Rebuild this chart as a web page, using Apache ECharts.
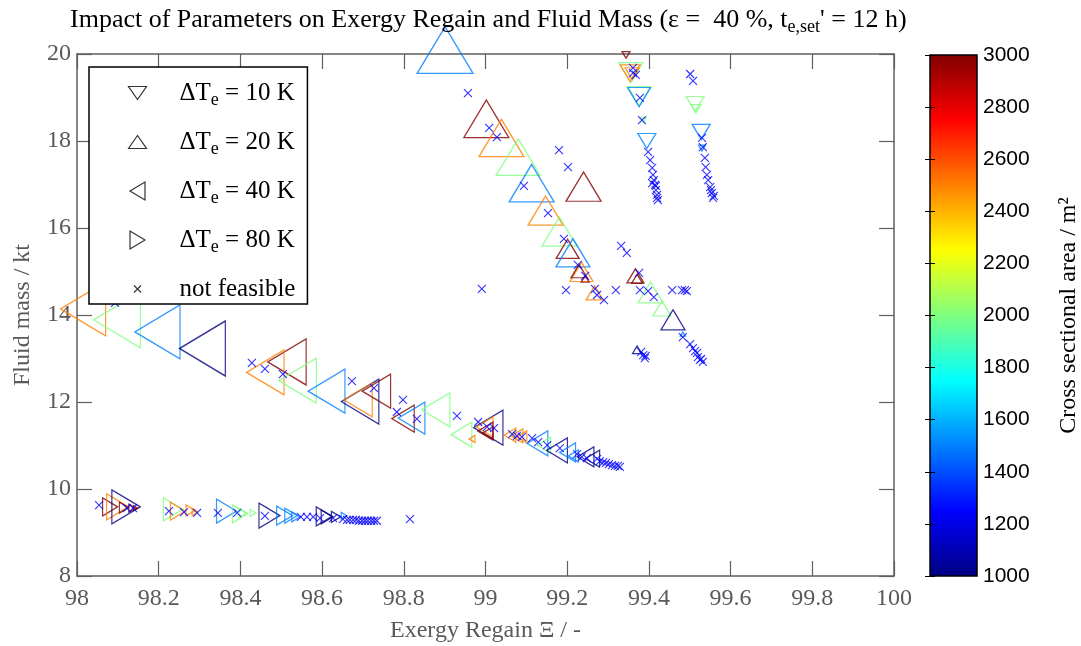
<!DOCTYPE html>
<html>
<head>
<meta charset="utf-8">
<title>Exergy regain vs fluid mass</title>
<script src="https://cdn.jsdelivr.net/npm/echarts@6/dist/echarts.min.js"></script>
<style>
  html, body { margin: 0; padding: 0; background: #fff; }
  #chart { width: 1081px; height: 646px; }
</style>
</head>
<body>
<div id="chart"></div>
<script>
// ---- data ----
// ΔTe = 10 K (down triangles)
const dt10X = [99.344, 99.356, 99.354, 99.359, 99.376, 99.376, 99.386, 99.395, 99.513, 99.515, 99.528, 99.530];
const dt10Y = [19.98, 19.57, 19.56, 19.55, 19.03, 19.01, 18.48, 18.00, 18.85, 18.74, 18.21, 17.84];
const dt10Area = [3000, 2000, 2500, 2500, 2000, 1500, 2000, 1500, 2000, 2000, 1500, 1500];
const dt10Scale = [0.8, 2.4, 2.0, 1.4, 2.3, 2.3, 0.6, 1.8, 1.8, 1.0, 1.8, 0.7];

// ΔTe = 20 K (up triangles)
const dt20X = [98.901, 99.002, 99.039, 99.080, 99.113, 99.240, 99.147, 99.181, 99.201, 99.214, 99.235,
  99.229, 99.244, 99.267, 99.367, 99.371, 99.404, 99.432, 99.459, 99.483, 99.371];
const dt20Y = [20.09, 18.51, 18.07, 17.63, 17.03, 16.95, 16.40, 15.92, 15.52, 15.43, 14.99,
  15.01, 14.83, 14.51, 14.90, 14.83, 14.52, 14.15, 13.89, 13.56, 13.20];
const dt20Area = [1500, 3000, 2500, 2000, 1500, 3000, 2500, 2000, 3000, 1500, 2500,
  3000, 3000, 2500, 3000, 3000, 2000, 2000, 1000, 1500, 1000];
const dt20Scale = [5.6, 4.5, 4.5, 4.4, 4.5, 3.5, 3.5, 3.5, 2.3, 3.4, 2.3,
  1.6, 0.8, 1.7, 1.7, 1.1, 2.5, 1.8, 2.4, 0.5, 0.9];

// ΔTe = 40 K (left triangles)
const dt40X = [98.015, 98.098, 98.197, 98.307, 98.514, 98.461, 98.540, 98.611, 98.693, 98.688,
  98.733, 98.798, 98.819, 98.878, 98.941, 98.967, 99.007, 98.998, 99.000, 99.006,
  99.060, 99.077, 99.089, 99.127, 99.143, 99.175, 99.201, 99.215, 99.245, 99.262];
const dt40Y = [14.14, 13.89, 13.61, 13.23, 12.92, 12.68, 12.49, 12.25, 12.01, 12.05,
  12.25, 11.62, 11.63, 11.82, 11.25, 11.15, 11.41, 11.43, 11.33, 11.29,
  11.24, 11.22, 11.20, 11.05, 11.01, 10.89, 10.84, 10.76, 10.74, 10.70];
const dt40Area = [2500, 2000, 1500, 1000, 3000, 2500, 2000, 1500, 1000, 2500,
  3000, 3000, 1500, 2000, 2000, 2500, 1000, 2500, 3000, 3000,
  2500, 2500, 2500, 1500, 2000, 1000, 1500, 1500, 1000, 1000];
const dt40Scale = [5.4, 5.6, 5.4, 5.5, 4.6, 4.5, 4.5, 4.4, 4.5, 3.4,
  3.4, 2.7, 3.2, 3.4, 2.5, 0.7, 3.5, 2.0, 1.8, 1.2,
  1.4, 1.4, 1.2, 2.5, 1.6, 2.5, 1.9, 1.2, 2.0, 1.7];

// ΔTe = 80 K (right triangles)
const dt80X = [98.081, 98.099, 98.120, 98.115, 98.135, 98.143, 98.235, 98.247, 98.278, 98.289, 98.366,
  98.399, 98.406, 98.431, 98.471, 98.508, 98.524, 98.536, 98.605, 98.612, 98.634, 98.654];
const dt80Y = [9.59, 9.59, 9.59, 9.57, 9.56, 9.56, 9.53, 9.49, 9.51, 9.47, 9.49,
  9.43, 9.45, 9.45, 9.39, 9.39, 9.39, 9.36, 9.37, 9.36, 9.36, 9.38];
const dt80Area = [3000, 2500, 1000, 3000, 3000, 3000, 2000, 2500, 2500, 2500, 1500,
  2000, 2000, 2000, 1000, 1500, 1500, 1500, 1000, 1000, 1000, 1500];
const dt80Scale = [1.8, 2.6, 3.4, 1.1, 0.8, 0.5, 2.3, 1.8, 1.1, 0.7, 2.4,
  1.8, 0.9, 0.7, 2.5, 1.9, 1.5, 1.0, 1.9, 1.4, 1.1, 0.7];

// not feasible [exergy regain, fluid mass]
const notFeasible = [
  [98.054, 9.63], [98.122, 9.56], [98.137, 9.56], [98.225, 9.49], [98.262, 9.47], [98.294, 9.45],
  [98.345, 9.45], [98.392, 9.45], [98.460, 9.38], [98.548, 9.36], [98.563, 9.36], [98.578, 9.36],
  [98.595, 9.33], [98.627, 9.33], [98.651, 9.31], [98.661, 9.29], [98.668, 9.29], [98.676, 9.29],
  [98.683, 9.29], [98.690, 9.27], [98.698, 9.27], [98.705, 9.27], [98.712, 9.27], [98.720, 9.27],
  [98.727, 9.27], [98.734, 9.27], [98.815, 9.31],
  [98.093, 14.28], [98.428, 12.90], [98.460, 12.76], [98.504, 12.64], [98.673, 12.48], [98.727, 12.32],
  [98.798, 12.05], [98.783, 11.77], [98.832, 11.61], [98.930, 11.68], [98.982, 11.54], [99.004, 11.43],
  [99.021, 11.40], [99.065, 11.26], [99.077, 11.22], [99.089, 11.20], [99.114, 11.17], [99.129, 11.08],
  [99.151, 11.01], [99.182, 10.94], [99.224, 10.80], [99.236, 10.74], [99.248, 10.71], [99.273, 10.69],
  [99.280, 10.64], [99.288, 10.62], [99.295, 10.60], [99.302, 10.57], [99.310, 10.55], [99.317, 10.53],
  [99.324, 10.53], [99.329, 10.51],
  [98.957, 19.10], [99.009, 18.30], [99.028, 18.09], [99.094, 16.97], [99.153, 16.34], [99.192, 15.75],
  [99.202, 17.40], [99.180, 17.79], [99.226, 15.15], [99.244, 14.90], [99.268, 14.60], [99.273, 14.46],
  [99.290, 14.34], [99.197, 14.57], [98.991, 14.60], [99.319, 14.57], [99.332, 15.59], [99.346, 15.43],
  [99.376, 14.97], [99.378, 14.57], [99.398, 14.55], [99.412, 14.41], [99.457, 14.57], [99.481, 14.57],
  [99.488, 14.57], [99.493, 14.55], [99.483, 13.49], [99.501, 13.33], [99.508, 13.24], [99.513, 13.17],
  [99.518, 13.13], [99.520, 13.03], [99.525, 12.97], [99.528, 12.99], [99.532, 12.92], [99.381, 13.15],
  [99.386, 13.08], [99.392, 13.06], [99.390, 13.01],
  [99.361, 19.68], [99.368, 19.52], [99.361, 19.56], [99.378, 18.99], [99.383, 18.48], [99.398, 17.75],
  [99.403, 17.56], [99.408, 17.38], [99.410, 17.22], [99.412, 17.10], [99.415, 16.99], [99.417, 16.87],
  [99.420, 16.76], [99.422, 16.64], [99.408, 17.03], [99.417, 16.97], [99.420, 16.69], [99.501, 19.54],
  [99.508, 19.38], [99.530, 18.07], [99.532, 17.86], [99.537, 17.61], [99.539, 17.40], [99.542, 17.22],
  [99.545, 17.10], [99.550, 16.94], [99.552, 16.87], [99.554, 16.80], [99.557, 16.69], [99.559, 16.74]
];

const seriesNames = ['ΔTe = 10 K', 'ΔTe = 20 K', 'ΔTe = 40 K', 'ΔTe = 80 K', 'not feasible'];
const areaMin = 1000, areaMax = 3000;

// ---- helpers ----
const SERIF = '"Liberation Serif", "Times New Roman", serif';
const SANS = '"Liberation Sans", Arial, sans-serif';
const AXIS_GREY = '#5f5f5f';
const TEXT_GREY = '#595959';

// matlab jet colormap
function jet(v) {
  const t = Math.min(1, Math.max(0, (v - areaMin) / (areaMax - areaMin)));
  const c = k => Math.round(255 * Math.min(1, Math.max(0, 1.5 - Math.abs(4 * t - k))));
  return 'rgb(' + c(3) + ',' + c(2) + ',' + c(1) + ')';
}

function triSeries(name, rot, xs, ys, areas, scales) {
  return {
    name: name,
    type: 'scatter',
    symbol: 'triangle',
    symbolRotate: rot,
    clip: false,
    silent: true,
    itemStyle: {color: 'none', borderColor: '#000', borderWidth: 1.3},
    data: xs.map((x, i) => ({
      value: [x, ys[i], areas[i]],
      symbolSize: [scales[i] * 10, scales[i] * 10 / 1.2],
      itemStyle: {color: 'none', borderColor: jet(areas[i]), borderWidth: 1.3}
    }))
  };
}

const legendIcon = {
  down: 'path://M0,0M18,18M0,2.5L18,2.5L9,15.5Z',
  up: 'path://M0,0M18,18M0,15.5L9,2.5L18,15.5Z',
  left: 'path://M0,0M18,18M16.5,0L16.5,18L1.5,9Z',
  right: 'path://M0,0M18,18M1.5,0L1.5,18L16.5,9Z',
  cross: 'path://M0,0M18,18M5.5,5.5L12.5,12.5M12.5,5.5L5.5,12.5'
};
const legendStyle = {color: 'none', borderColor: '#000', borderWidth: 1.2};

const jetStops = [0, 0.125, 0.375, 0.625, 0.875, 1].map(s => ({
  offset: s, color: jet(areaMin + s * (areaMax - areaMin))
}));

const chart = echarts.init(document.getElementById('chart'), null, {renderer: 'canvas'});

const mainAxisLine = {show: true, lineStyle: {color: AXIS_GREY, width: 1.5}};
const mainTick = {show: true, inside: true, length: 15, lineStyle: {color: AXIS_GREY, width: 1.2}};
const mainLabel = {color: TEXT_GREY, fontFamily: SERIF, fontSize: 24};
const barTick = {show: true, inside: true, length: 5, lineStyle: {color: '#000', width: 1}};

chart.setOption({
  animation: false,
  backgroundColor: '#fff',
  title: {
    text: "Impact of Parameters on Exergy Regain and Fluid Mass (ε =  40 %, t{sub|e,set}' = 12 h)",
    left: 70,
    top: 4,
    padding: 0,
    textStyle: {
      fontFamily: SERIF, fontSize: 26, fontWeight: 'normal', color: '#000',
      rich: {sub: {fontFamily: SERIF, fontSize: 18, color: '#000', padding: [14, 0, 0, 0]}}
    }
  },
  grid: [
    {left: 77, top: 54, width: 817, height: 522, outerBoundsMode: 'none', containLabel: false},
    {
      left: 930, top: 55, width: 47, height: 521, outerBoundsMode: 'none', containLabel: false,
      show: true, borderColor: '#000', borderWidth: 1.5,
      backgroundColor: new echarts.graphic.LinearGradient(0, 1, 0, 0, jetStops)
    }
  ],
  xAxis: [
    {
      type: 'value', gridIndex: 0, position: 'bottom', min: 98, max: 100, interval: 0.2,
      axisLine: mainAxisLine, axisTick: mainTick,
      axisLabel: Object.assign({margin: 11, showMinLabel: true, showMaxLabel: true}, mainLabel),
      splitLine: {show: false},
      name: 'Exergy Regain Ξ / -', nameLocation: 'middle', nameGap: 43,
      nameTextStyle: {color: TEXT_GREY, fontFamily: SERIF, fontSize: 24}
    },
    {
      type: 'value', gridIndex: 0, position: 'top', min: 98, max: 100, interval: 0.2,
      axisLine: mainAxisLine, axisTick: mainTick, axisLabel: {show: false}, splitLine: {show: false}
    },
    {type: 'value', gridIndex: 1, show: false, min: 0, max: 1}
  ],
  yAxis: [
    {
      type: 'value', gridIndex: 0, position: 'left', min: 8, max: 20, interval: 2,
      axisLine: mainAxisLine, axisTick: mainTick,
      axisLabel: Object.assign({margin: 6, showMinLabel: true, showMaxLabel: true}, mainLabel),
      splitLine: {show: false},
      name: 'Fluid mass / kt', nameLocation: 'middle', nameGap: 42, nameRotate: 90,
      nameTextStyle: {color: TEXT_GREY, fontFamily: SERIF, fontSize: 24}
    },
    {
      type: 'value', gridIndex: 0, position: 'right', min: 8, max: 20, interval: 2,
      axisLine: mainAxisLine, axisTick: mainTick, axisLabel: {show: false}, splitLine: {show: false}
    },
    {
      type: 'value', gridIndex: 1, position: 'right', min: areaMin, max: areaMax, interval: 200,
      axisLine: {show: false}, axisTick: barTick, splitLine: {show: false},
      axisLabel: {
        color: '#000', fontFamily: SANS, fontSize: 21, margin: 6, showMinLabel: true, showMaxLabel: true,
        formatter: v => String(v)
      },
      name: 'Cross sectional area / m²', nameLocation: 'middle', nameGap: 80, nameRotate: 90,
      nameTextStyle: {color: '#000', fontFamily: SERIF, fontSize: 24}
    },
    {
      type: 'value', gridIndex: 1, position: 'left', min: areaMin, max: areaMax, interval: 200,
      axisLine: {show: false}, axisTick: barTick, axisLabel: {show: false}, splitLine: {show: false}
    }
  ],
  legend: {
    orient: 'vertical',
    left: 89,
    top: 67,
    padding: [11, 12, 0, 37],
    backgroundColor: '#fff',
    borderColor: '#000',
    borderWidth: 1.5,
    borderRadius: 0,
    itemWidth: 74,
    itemHeight: 18,
    itemGap: 18,
    symbolKeepAspect: true,
    symbolRotate: 0,
    selectedMode: false,
    formatter: name => name.replace('Te', 'T{sub|e}'),
    textStyle: {
      fontFamily: SERIF, fontSize: 25, color: '#000', lineHeight: 30,
      rich: {sub: {fontFamily: SERIF, fontSize: 18, color: '#000', padding: [14, 0, 0, 0]}}
    },
    data: [
      {name: seriesNames[0], icon: legendIcon.down, itemStyle: legendStyle},
      {name: seriesNames[1], icon: legendIcon.up, itemStyle: legendStyle},
      {name: seriesNames[2], icon: legendIcon.left, itemStyle: legendStyle},
      {name: seriesNames[3], icon: legendIcon.right, itemStyle: legendStyle},
      {name: seriesNames[4], icon: legendIcon.cross, itemStyle: legendStyle}
    ]
  },
  series: [
    triSeries(seriesNames[0], 180, dt10X, dt10Y, dt10Area, dt10Scale),
    triSeries(seriesNames[1], 0, dt20X, dt20Y, dt20Area, dt20Scale),
    triSeries(seriesNames[2], 90, dt40X, dt40Y, dt40Area, dt40Scale),
    triSeries(seriesNames[3], -90, dt80X, dt80Y, dt80Area, dt80Scale),
    {
      name: seriesNames[4],
      type: 'scatter',
      symbol: 'path://M0,0L1,1M1,0L0,1',
      symbolSize: 8,
      clip: false,
      silent: true,
      itemStyle: {color: 'none', borderColor: '#0000ff', borderWidth: 1.1},
      data: notFeasible
    }
  ]
});
</script>
</body>
</html>
